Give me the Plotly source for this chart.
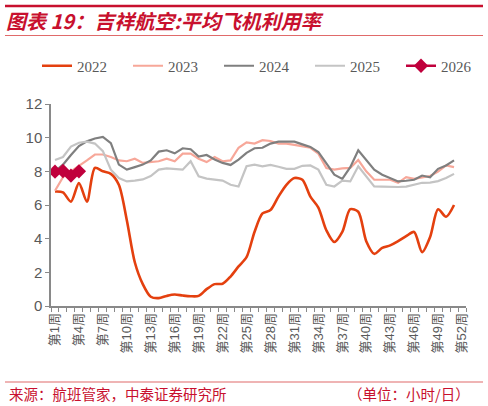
import plotly.graph_objects as go

weeks = list(range(1, 53))
week_labels = [f"第{w}周" for w in weeks]
tick_weeks = list(range(1, 53, 3))
tick_labels = [f"第{w}周" for w in tick_weeks]

y2022 = [6.8, 6.75, 6.2, 7.3, 6.2, 8.2, 8.0, 7.85, 7.2, 5.1,
         2.6, 1.3, 0.55, 0.47, 0.6, 0.68, 0.62, 0.58, 0.6, 1.0,
         1.3, 1.32, 1.75, 2.35, 2.9, 4.4, 5.5, 5.7, 6.5, 7.2,
         7.6, 7.5, 6.5, 5.85, 4.5, 3.8, 4.4, 5.75, 5.6, 3.85,
         3.1, 3.45, 3.6, 3.85, 4.15, 4.4, 3.2, 4.1, 5.75, 5.3,
         6.0, None]
y2023 = [6.85, 7.65, 8.0, 8.3, 8.65, 9.0, 9.0, 8.85, 8.65, 8.6,
         8.75, 8.5, 8.55, 8.6, 8.75, 8.6, 9.05, 9.05, 8.75, 8.55,
         8.85, 8.6, 8.65, 9.4, 9.72, 9.65, 9.85, 9.8, 9.65, 9.65,
         9.57, 9.47, 9.4, 9.05, 8.2, 8.1, 8.18, 8.2, 8.67, 8.0,
         7.5, 7.5, 7.5, 7.32, 7.65, 7.55, 7.62, 7.72, 7.98, 8.35,
         8.25, None]
y2024 = [8.0, 8.4, 8.97, 9.5, 9.78, 9.95, 10.05, 9.67, 8.4, 8.1,
         8.25, 8.4, 8.65, 9.17, 9.25, 9.07, 9.37, 9.31, 8.88, 8.97,
         8.7, 8.5, 8.38, 8.7, 9.1, 9.37, 9.4, 9.65, 9.76, 9.76,
         9.76, 9.6, 9.45, 9.15, 8.5, 7.8, 7.55, 8.25, 9.25, 8.7,
         8.1, 7.8, 7.62, 7.4, 7.44, 7.5, 7.75, 7.65, 8.15, 8.35,
         8.65, None]
y2025 = [8.67, 8.85, 9.47, 9.7, 9.76, 9.65, 9.2, 8.1, 7.6, 7.4,
         7.45, 7.52, 7.72, 8.1, 8.18, 8.15, 8.1, 8.6, 7.7, 7.57,
         7.52, 7.45, 7.2, 7.1, 8.3, 8.4, 8.3, 8.38, 8.27, 8.15,
         8.15, 8.33, 8.35, 8.1, 7.2, 7.1, 7.45, 7.4, 8.3, 7.7,
         7.1, 7.09, 7.07, 7.07, 7.09, 7.2, 7.32, 7.33, 7.42, 7.6,
         7.85, None]
y2026 = [7.98, 8.02, 7.75, 8.0]

W, H = 488, 406
L, R, T, B = 51, 22, 104, 100
PW, PH = W - L - R, H - T - B


def px_x(p):
    return (p - L) / PW


def px_y(p):
    return (H - B - p) / PH


fig = go.Figure()
fig.add_trace(go.Scatter(x=weeks, y=y2022, name="2022", mode="lines",
                         line=dict(color="#E4400F", width=2.6, shape="spline", smoothing=0.8)))
fig.add_trace(go.Scatter(x=weeks, y=y2023, name="2023", mode="lines",
                         line=dict(color="#F7A799", width=2.2)))
fig.add_trace(go.Scatter(x=weeks, y=y2024, name="2024", mode="lines",
                         line=dict(color="#7F7F7F", width=2.2)))
fig.add_trace(go.Scatter(x=weeks, y=y2025, name="2025", mode="lines",
                         line=dict(color="#C4C4C4", width=2.2)))
fig.add_trace(go.Scatter(x=weeks[:len(y2026)], y=y2026, name="2026", mode="lines+markers",
                         line=dict(color="#C0003C", width=2.4),
                         marker=dict(symbol="diamond", size=11, color="#C0003C")))

red = "#C8102E"
fig.update_layout(
    width=W, height=H,
    margin=dict(l=L, r=R, t=T, b=B, autoexpand=False),
    paper_bgcolor="white", plot_bgcolor="white",
    showlegend=True,
    legend=dict(orientation="h", xref="paper", yref="paper",
                x=px_x(37), xanchor="left", y=px_y(66), yanchor="middle",
                font=dict(family="Liberation Serif, DejaVu Serif, serif", size=15, color="#595959"),
                entrywidth=46, entrywidthmode="pixels", tracegroupgap=0,
                bgcolor="rgba(0,0,0,0)"),
    title=dict(text="<b><i>图表 19：吉祥航空:平均飞机利用率</i></b>", x=6 / W, xanchor="left",
               y=1 - 22 / H, yanchor="middle", xref="container", yref="container",
               font=dict(family="Noto Sans CJK SC", size=20, color=red)),
    xaxis=dict(range=[0.5, 52.5], showgrid=False, zeroline=False,
               showline=True, linecolor="#898989", linewidth=1.5,
               tickmode="array", tickvals=tick_weeks, ticktext=tick_labels,
               tickangle=-90, ticks="", ticklen=0,
               tickfont=dict(family="Liberation Sans, Noto Sans CJK SC", size=13, color="#595959"),
               minor=dict(ticks="outside", tick0=0.5, dtick=1, ticklen=4, tickcolor="#898989",
                          tickwidth=1, showgrid=False)),
    yaxis=dict(range=[0, 12], dtick=2, showgrid=False, zeroline=False,
               showline=True, linecolor="#898989", linewidth=1.5,
               ticks="outside", ticklen=4, tickcolor="#898989", tickwidth=1.2,
               tickfont=dict(family="Liberation Sans, Arial, sans-serif", size=15, color="#595959")),
    shapes=[
        dict(type="line", xref="paper", yref="paper", x0=px_x(5), x1=px_x(483),
             y0=px_y(6), y1=px_y(6), line=dict(color=red, width=2.5)),
        dict(type="line", xref="paper", yref="paper", x0=px_x(5), x1=px_x(483),
             y0=px_y(35.5), y1=px_y(35.5), line=dict(color="#E06A6A", width=1.2)),
        dict(type="line", xref="paper", yref="paper", x0=px_x(5), x1=px_x(483),
             y0=px_y(382), y1=px_y(382), line=dict(color="#E06A6A", width=1.2)),
    ],
    annotations=[
        dict(text="来源：航班管家，中泰证券研究所", xref="paper", yref="paper",
             x=px_x(7), y=px_y(393), xanchor="left", yanchor="middle", showarrow=False,
             font=dict(family="Noto Sans CJK SC", size=14.5, color=red)),
        dict(text="（单位：小时/日）", xref="paper", yref="paper",
             x=px_x(472), y=px_y(393), xanchor="right", yanchor="middle", showarrow=False,
             font=dict(family="Noto Sans CJK SC", size=14.5, color=red)),
    ],
)

fig.write_html("out.html", config={"displayModeBar": False},
               post_script="document.body.style.margin='0';document.body.style.padding='0';")
